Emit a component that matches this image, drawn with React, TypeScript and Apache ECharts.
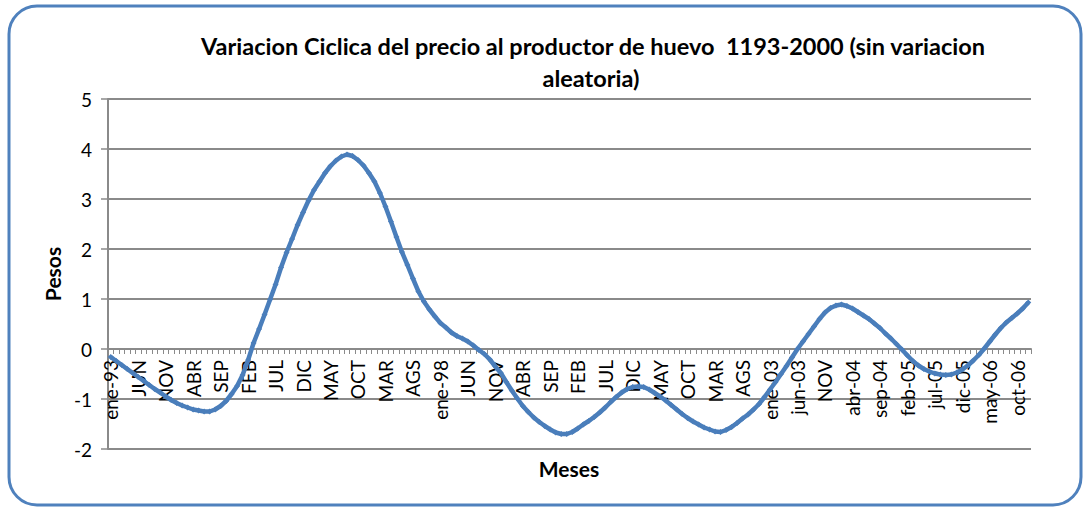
import React, { useEffect, useRef } from "react";
import * as echarts from "echarts";

const monthAbbr = ["ene", "feb", "mar", "abr", "may", "jun", "jul", "ago", "sep", "oct", "nov", "dic"];
const years = ["93", "94", "95", "96", "97", "98", "99", "00", "01", "02", "03", "04", "05", "06"];
const categories: string[] = [];
years.forEach((y) => monthAbbr.forEach((m) => categories.push(`${m}-${y}`)));

const tickLabels = [
  "ene-93", "JUN", "NOV", "ABR", "SEP", "FEB", "JUL", "DIC", "MAY", "OCT", "MAR", "AGS",
  "ene-98", "JUN", "NOV", "ABR", "SEP", "FEB", "JUL", "DIC", "MAY", "OCT", "MAR", "AGS",
  "ene-03", "jun-03", "NOV", "abr-04", "sep-04", "feb-05", "jul-05", "dic-05", "may-06", "oct-06",
];

const values = [
  -0.16, -0.24, -0.32, -0.40, -0.48, -0.56, -0.64, -0.72, -0.80, -0.87,
  -0.95, -1.02, -1.08, -1.13, -1.17, -1.21, -1.23, -1.25, -1.25, -1.21,
  -1.14, -1.04, -0.90, -0.74, -0.52, -0.22, 0.12, 0.40, 0.69, 0.99,
  1.29, 1.63, 1.93, 2.20, 2.48, 2.73, 2.97, 3.18, 3.35, 3.52,
  3.66, 3.77, 3.85, 3.89, 3.86, 3.78, 3.67, 3.52, 3.35, 3.12,
  2.85, 2.55, 2.24, 1.94, 1.68, 1.41, 1.15, 0.95, 0.79, 0.65,
  0.52, 0.43, 0.33, 0.26, 0.21, 0.15, 0.07, -0.02, -0.10, -0.21,
  -0.35, -0.48, -0.66, -0.83, -0.99, -1.14, -1.26, -1.37, -1.46, -1.54,
  -1.61, -1.67, -1.70, -1.70, -1.66, -1.59, -1.51, -1.44, -1.36, -1.27,
  -1.17, -1.06, -0.96, -0.87, -0.80, -0.76, -0.75, -0.76, -0.81, -0.88,
  -0.95, -1.03, -1.12, -1.21, -1.30, -1.38, -1.45, -1.51, -1.57, -1.61,
  -1.65, -1.66, -1.62, -1.56, -1.48, -1.39, -1.31, -1.21, -1.10, -0.96,
  -0.81, -0.66, -0.50, -0.34, -0.17, 0.00, 0.15, 0.30, 0.45, 0.60,
  0.73, 0.82, 0.87, 0.89, 0.86, 0.81, 0.74, 0.67, 0.60, 0.51,
  0.42, 0.31, 0.21, 0.10, -0.01, -0.13, -0.24, -0.33, -0.40, -0.45,
  -0.49, -0.51, -0.52, -0.51, -0.47, -0.41, -0.33, -0.23, -0.12, 0.01,
  0.15, 0.29, 0.42, 0.53, 0.62, 0.71, 0.81, 0.93,
];

const titleLine1 = "Variacion Ciclica del precio al productor de huevo  1193-2000 (sin variacion";
const titleLine2 = "aleatoria)";
const yName = "Pesos";
const xName = "Meses";

const FONT = "Lato, 'Open Sans', sans-serif";
const GRID = "#8a8a8a";

export default function App() {
  const ref = useRef<HTMLDivElement>(null);
  useEffect(() => {
    if (!ref.current) return;
    const chart = echarts.init(ref.current, null, { renderer: "svg" });
    chart.setOption({
      animation: false,
      backgroundColor: "#ffffff",
      textStyle: { fontFamily: FONT },
      grid: { left: 108, right: 58, top: 99, bottom: 62, containLabel: false, outerBoundsMode: "none" },
      graphic: [
        {
          type: "rect",
          shape: { x: 9, y: 6, width: 1072, height: 499, r: 28 },
          style: { fill: "none", stroke: "#4F81BD", lineWidth: 3 },
          silent: true,
        },
        {
          type: "text",
          x: 593,
          y: 46,
          style: {
            text: titleLine1,
            font: `bold 23.5px ${FONT}`,
            fill: "#000",
            textAlign: "center",
            textVerticalAlign: "middle",
          },
        },
        {
          type: "text",
          x: 591,
          y: 78,
          style: {
            text: titleLine2,
            font: `bold 23.5px ${FONT}`,
            fill: "#000",
            textAlign: "center",
            textVerticalAlign: "middle",
          },
        },
        {
          type: "text",
          x: 569,
          y: 468,
          style: {
            text: xName,
            font: `bold 21px ${FONT}`,
            fill: "#000",
            textAlign: "center",
            textVerticalAlign: "middle",
          },
        },
      ],
      xAxis: {
        type: "category",
        data: categories,
        boundaryGap: true,
        position: "bottom",
        offset: -100,
        axisLine: { onZero: false, lineStyle: { color: GRID, width: 2 } },
        axisTick: { show: true, interval: 0, length: 5, lineStyle: { color: GRID, width: 1 } },
        axisLabel: {
          interval: 0,
          rotate: 90,
          margin: 11,
          color: "#000",
          fontSize: 19,
          fontFamily: FONT,
          hideOverlap: false,
          formatter: (_v: string, idx: number) => (idx % 5 === 0 ? tickLabels[idx / 5] ?? "" : ""),
        },
        splitLine: { show: false },
      },
      yAxis: {
        type: "value",
        min: -2,
        max: 5,
        interval: 1,
        name: yName,
        nameLocation: "middle",
        nameGap: 42,
        nameRotate: 90,
        nameTextStyle: { fontWeight: "bold", fontSize: 21, color: "#000", fontFamily: FONT },
        axisLine: { show: true, lineStyle: { color: GRID, width: 2 } },
        axisTick: { show: true, length: 7, lineStyle: { color: GRID, width: 1.5 } },
        axisLabel: { color: "#000", fontSize: 19, margin: 16, fontFamily: FONT },
        splitLine: { show: true, lineStyle: { color: GRID, width: 2 } },
      },
      series: [
        {
          type: "line",
          data: values,
          smooth: false,
          symbol: "diamond",
          symbolSize: 6,
          showSymbol: true,
          itemStyle: { color: "#4A7EBB" },
          lineStyle: { color: "#4A7EBB", width: 4.5 },
          z: 5,
        },
      ],
    });
    return () => chart.dispose();
  }, []);
  return (
    <div
      ref={ref}
      style={{ position: "fixed", left: 0, top: 0, width: 1089, height: 511, background: "#fff" }}
    />
  );
}
